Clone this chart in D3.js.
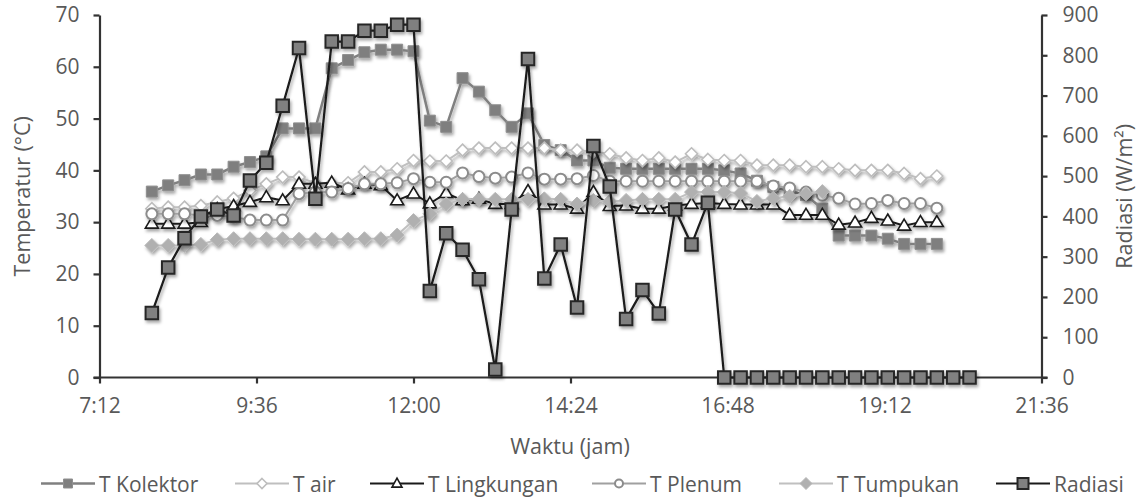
<!DOCTYPE html>
<html>
<head>
<meta charset="utf-8">
<script src="https://cdn.jsdelivr.net/npm/d3@7"></script>
<style>
  html, body { margin: 0; padding: 0; background: #fff; }
  svg { display: block; }
  text { font-family: "Open Sans", sans-serif; fill: #595959; }
</style>
</head>
<body>
<svg id="chart" width="1145" height="500"></svg>
<script>
// ---- data ----
const times = ["8:00","8:15","8:30","8:45","9:00","9:15","9:30","9:45","10:00","10:15",
  "10:30","10:45","11:00","11:15","11:30","11:45","12:00","12:15","12:30","12:45",
  "13:00","13:15","13:30","13:45","14:00","14:15","14:30","14:45","15:00","15:15",
  "15:30","15:45","16:00","16:15","16:30","16:45","17:00","17:15","17:30","17:45",
  "18:00","18:15","18:30","18:45","19:00","19:15","19:30","19:45","20:00","20:15","20:30"];

const tKolektor = [35.9,37.1,38.1,39.2,39.2,40.7,41.6,42.7,48.1,48.1,
  48.1,59.7,61.3,62.8,63.3,63.3,63.0,49.6,48.4,57.8,
  55.2,51.6,48.4,51.0,44.9,43.9,41.9,41.9,40.5,40.3,
  40.3,40.3,40.3,40.3,40.3,40.0,39.4,38.0,36.8,36.0,
  35.2,32.6,27.4,27.4,27.4,26.8,25.8,25.8,25.8];

const tAir = [32.6,32.9,32.9,33.2,33.9,34.6,36.1,37.4,38.7,38.7,
  37.5,37.5,37.6,39.7,39.7,40.3,41.9,41.8,41.8,43.9,
  44.3,44.3,44.3,44.3,44.3,43.9,43.9,43.6,43.2,42.4,
  41.9,42.4,41.6,43.2,42.1,41.9,41.9,41.0,41.0,41.0,
  40.7,40.7,40.3,40.0,40.0,40.0,39.4,38.4,38.9];

const tLingkungan = [29.7,29.7,29.7,30.0,32.5,33.1,33.9,34.8,34.2,37.4,
  37.4,37.6,36.3,37.4,37.1,34.2,35.5,33.6,35.6,34.2,
  34.5,33.5,33.5,36.0,33.4,33.4,32.6,35.8,33.1,33.2,
  32.6,32.6,33.2,33.5,33.7,33.5,33.4,33.4,33.4,31.4,
  31.4,31.4,29.5,29.9,30.8,30.3,29.3,30.0,30.0];

const tPlenum = [31.6,31.6,31.6,31.3,31.3,31.0,30.4,30.4,30.4,35.5,
  35.8,35.8,36.5,37.4,37.4,37.6,38.4,37.7,37.7,39.5,
  38.8,38.5,38.7,39.5,38.3,38.3,38.4,39.0,37.9,37.9,
  37.9,37.9,37.9,37.9,37.9,37.9,37.9,37.9,37.0,36.6,
  35.8,35.2,34.6,33.5,33.6,34.2,33.6,33.6,32.7];

const tTumpukan = [25.5,25.5,25.5,25.7,26.6,26.8,26.8,26.8,26.8,26.7,
  26.7,26.7,26.7,26.8,26.8,27.5,30.3,31.6,33.5,34.4,
  34.4,34.4,34.4,34.4,34.5,34.4,33.5,34.2,34.0,34.2,
  34.4,34.4,34.4,35.8,35.8,35.8,35.6,34.0,34.6,35.0,
  35.5,35.9];

const radiasi = [160,273,346,400,417,402,489,533,675,818,
  444,834,834,861,861,876,876,215,358,317,
  244,20,417,791,246,330,174,575,474,145,
  217,159,417,330,434,0,0,0,0,0,
  0,0,0,0,0,0,0,0,0,0,0];

const xTickLabels = ["7:12","9:36","12:00","14:24","16:48","19:12","21:36"];
const leftTicks = [0,10,20,30,40,50,60,70];
const rightTicks = [0,100,200,300,400,500,600,700,800,900];

// ---- helpers ----
const toMin = s => { const [h, m] = s.split(":").map(Number); return h * 60 + m; };

const svg = d3.select("#chart");
const defs = svg.append("defs");
const f = defs.append("filter").attr("id", "shadow")
  .attr("x", "-10%").attr("y", "-10%").attr("width", "130%").attr("height", "130%");
f.append("feDropShadow").attr("dx", 1.5).attr("dy", 2.5).attr("stdDeviation", 1.8)
  .attr("flood-color", "#000").attr("flood-opacity", 0.35);

const L = 99.5, R = 1041.5, T = 15, B = 377.5;

const x = d3.scaleLinear().domain([toMin(xTickLabels[0]), toMin(xTickLabels[xTickLabels.length - 1])]).range([L, R]);
const yL = d3.scaleLinear().domain([0, 70]).range([B, T]);
const yR = d3.scaleLinear().domain([0, 900]).range([B, T]);

// axes
const axisColor = "#333";
const gx = svg.append("g").attr("transform", `translate(0,${B})`)
  .call(d3.axisBottom(x).tickValues(xTickLabels.map(toMin))
    .tickFormat((d, i) => xTickLabels[i]).tickSizeInner(6).tickSizeOuter(0).tickPadding(10));
gx.select(".domain").attr("d", `M${L - 6},0H${R + 6}`);

const gl = svg.append("g").attr("transform", `translate(${L},0)`)
  .call(d3.axisLeft(yL).tickValues(leftTicks).tickSizeInner(6).tickSizeOuter(0).tickPadding(14));
const gr = svg.append("g").attr("transform", `translate(${R},0)`)
  .call(d3.axisRight(yR).tickValues(rightTicks).tickSizeInner(6).tickSizeOuter(0).tickPadding(15));

[gx, gl, gr].forEach(g => {
  g.selectAll(".domain").attr("stroke", axisColor).attr("stroke-width", 2.2);
  g.selectAll(".tick line").attr("stroke", axisColor).attr("stroke-width", 2.2);
  g.selectAll(".tick text").style("font-family", "'Open Sans', sans-serif")
    .style("font-size", "21px").attr("fill", "#595959");
});
gx.selectAll(".tick text").attr("dy", "0.95em");

// axis titles
svg.append("text").attr("x", 570).attr("y", 454).attr("text-anchor", "middle")
  .style("font-size", "21.5px").text("Waktu (jam)");
svg.append("text").attr("transform", `translate(30,${(T + B) / 2}) rotate(-90)`)
  .attr("text-anchor", "middle").style("font-size", "21.5px").text("Temperatur (°C)");
svg.append("text").attr("transform", `translate(1132,${(T + B) / 2}) rotate(-90)`)
  .attr("text-anchor", "middle").style("font-size", "21.5px").text("Radiasi (W/m²)");

// marker path generators
const squareP = s => `M${-s/2},${-s/2}h${s}v${s}h${-s}Z`;
const diamondP = r => `M0,${-r}L${r},0L0,${r}L${-r},0Z`;
const triP = (w, h) => `M0,${-h*0.6}L${w/2},${h*0.4}L${-w/2},${h*0.4}Z`;
const circleP = r => `M${r},0A${r},${r} 0 1,1 ${-r},0A${r},${r} 0 1,1 ${r},0Z`;

const series = [
  { name: "T Kolektor", vals: tKolektor, y: yL, line: "#808080", lw: 2.5,
    mk: squareP(11), fill: "#7f7f7f", stroke: "#8f8f8f", sw: 1,
    lgMk: squareP(9) },
  { name: "T air", vals: tAir, y: yL, line: "#bfbfbf", lw: 2,
    mk: diamondP(6), fill: "#ffffff", stroke: "#bdbdbd", sw: 1.6,
    lgMk: diamondP(5) },
  { name: "T Lingkungan", vals: tLingkungan, y: yL, line: "#1a1a1a", lw: 2,
    mk: triP(13, 11), fill: "#ffffff", stroke: "#1a1a1a", sw: 1.6,
    lgMk: triP(10, 9) },
  { name: "T Plenum", vals: tPlenum, y: yL, line: "#a0a0a0", lw: 2,
    mk: circleP(5.5), fill: "#ffffff", stroke: "#8c8c8c", sw: 2,
    lgMk: circleP(4) },
  { name: "T Tumpukan", vals: tTumpukan, y: yL, line: "#c0c0c0", lw: 2,
    mk: diamondP(7), fill: "#b0b0b0", stroke: "#b8b8b8", sw: 1,
    lgMk: diamondP(6) },
  { name: "Radiasi", vals: radiasi, y: yR, line: "#1a1a1a", lw: 2.2,
    mk: squareP(12.5), fill: "#808080", stroke: "#262626", sw: 2,
    lgMk: squareP(11) }
];

series.forEach(s => {
  const pts = s.vals.map((v, i) => ({ t: toMin(times[i]), v }));
  const g = svg.append("g").attr("filter", "url(#shadow)");
  g.append("path").datum(pts)
    .attr("d", d3.line().x(d => x(d.t)).y(d => s.y(d.v)))
    .attr("fill", "none").attr("stroke", s.line).attr("stroke-width", s.lw)
    .attr("stroke-linejoin", "round");
  g.selectAll("path.mk").data(pts).join("path").attr("class", "mk")
    .attr("transform", d => `translate(${x(d.t)},${s.y(d.v)})`)
    .attr("d", s.mk).attr("fill", s.fill).attr("stroke", s.stroke).attr("stroke-width", s.sw);
});

// legend
const legendX = [41, 235, 370, 592, 779, 996];
const ly = 483.5;
series.forEach((s, i) => {
  const g = svg.append("g").attr("transform", `translate(${legendX[i]},${ly})`);
  g.append("line").attr("x1", 0).attr("x2", 54).attr("y1", 0).attr("y2", 0)
    .attr("stroke", s.line).attr("stroke-width", s.lw);
  g.append("path").attr("transform", "translate(27,0)").attr("d", s.lgMk)
    .attr("fill", s.fill).attr("stroke", s.stroke).attr("stroke-width", s.sw);
  g.append("text").attr("x", 58).attr("y", 8).style("font-size", "21px").text(s.name);
});
</script>
</body>
</html>
